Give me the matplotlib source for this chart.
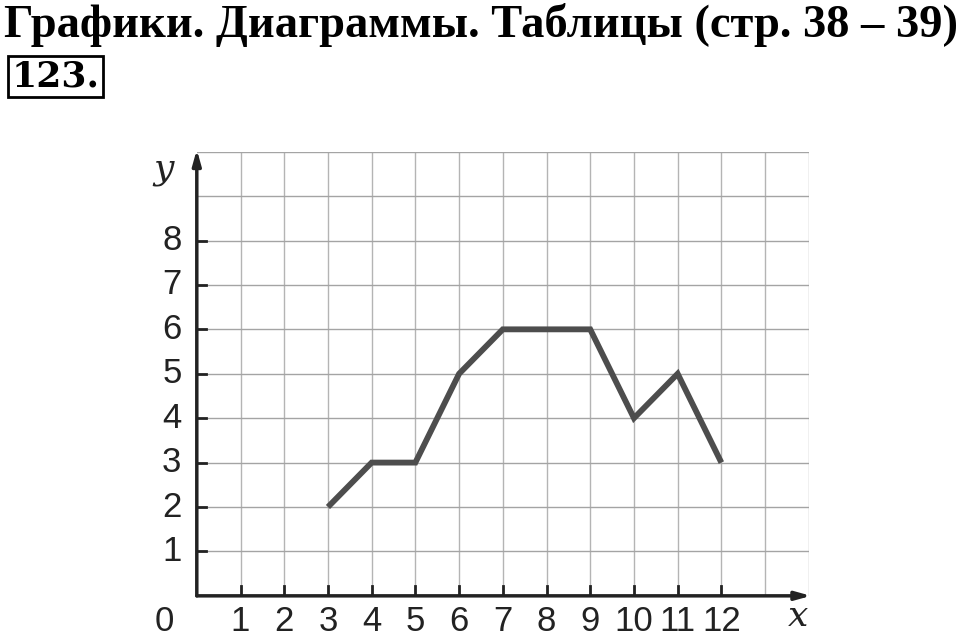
import matplotlib
matplotlib.use("Agg")
import matplotlib.pyplot as plt

# данные графика
xs = [3, 4, 5, 6, 7, 8, 9, 10, 11, 12]
ys = [2, 3, 3, 5, 6, 6, 6, 4, 5, 3]
x_ticks = list(range(1, 13))
y_ticks = list(range(1, 9))

title = "Графики. Диаграммы. Таблицы (стр. 38 – 39)"
number = "123."

fig = plt.figure(figsize=(9.6, 6.4), dpi=100)
fig.patch.set_facecolor("white")

fig.text(0.004, 0.942, title, fontsize=33.5, fontweight="bold",
         family="Liberation Serif", ha="left", va="baseline")
fig.text(0.012, 0.865, number, fontsize=26, fontweight="bold",
         family="DejaVu Serif", ha="left", va="baseline",
         bbox=dict(boxstyle="square,pad=0.1", fc="white", ec="black", lw=2))

ax = fig.add_axes([0.205, 0.069, 0.6375, 0.694])
ax.set_xlim(0, 14)
ax.set_ylim(0, 10)

# сетка
for gx in range(1, 15):
    ax.axvline(gx, color="#b4b4b4", lw=1.0, zorder=1)
for gy in range(1, 11):
    ax.axhline(gy, color="#a4a4a4", lw=1.0, zorder=1)

ax.plot(xs, ys, color="#4d4d4d", lw=4.2, solid_capstyle="butt",
        solid_joinstyle="miter", zorder=3)

for s in ax.spines.values():
    s.set_visible(False)
ax.set_xticks([])
ax.set_yticks([])

# оси со стрелками
ax.annotate("", xy=(14.05, 0), xytext=(0, 0),
            arrowprops=dict(arrowstyle="-|>,head_length=0.9,head_width=0.25",
                            color="#222222", lw=2.5, shrinkA=0, shrinkB=0),
            annotation_clip=False, zorder=4)
ax.annotate("", xy=(0, 10.05), xytext=(0, 0),
            arrowprops=dict(arrowstyle="-|>,head_length=0.9,head_width=0.25",
                            color="#222222", lw=2.5, shrinkA=0, shrinkB=0),
            annotation_clip=False, zorder=4)

lab = dict(fontsize=25, family="Liberation Sans", color="#222222")
for t in x_ticks:
    ax.plot([t, t], [0, 0.22], color="#222222", lw=2, zorder=4)
    ax.text(t, -0.2, str(t), ha="center", va="top", **lab)
for t in y_ticks:
    ax.plot([0, 0.22], [t, t], color="#222222", lw=2, zorder=4)
    ax.text(-0.35, t, str(t), ha="right", va="center", **lab)
ax.text(-0.75, -0.2, "0", ha="center", va="top", **lab)
ax.text(-0.75, 9.6, "y", ha="center", va="center", fontsize=26,
        family="DejaVu Serif", style="italic", color="#222222")
ax.text(13.75, -0.45, "x", ha="center", va="center", fontsize=26,
        family="DejaVu Serif", style="italic", color="#222222")

fig.savefig("out.png", dpi=100)
